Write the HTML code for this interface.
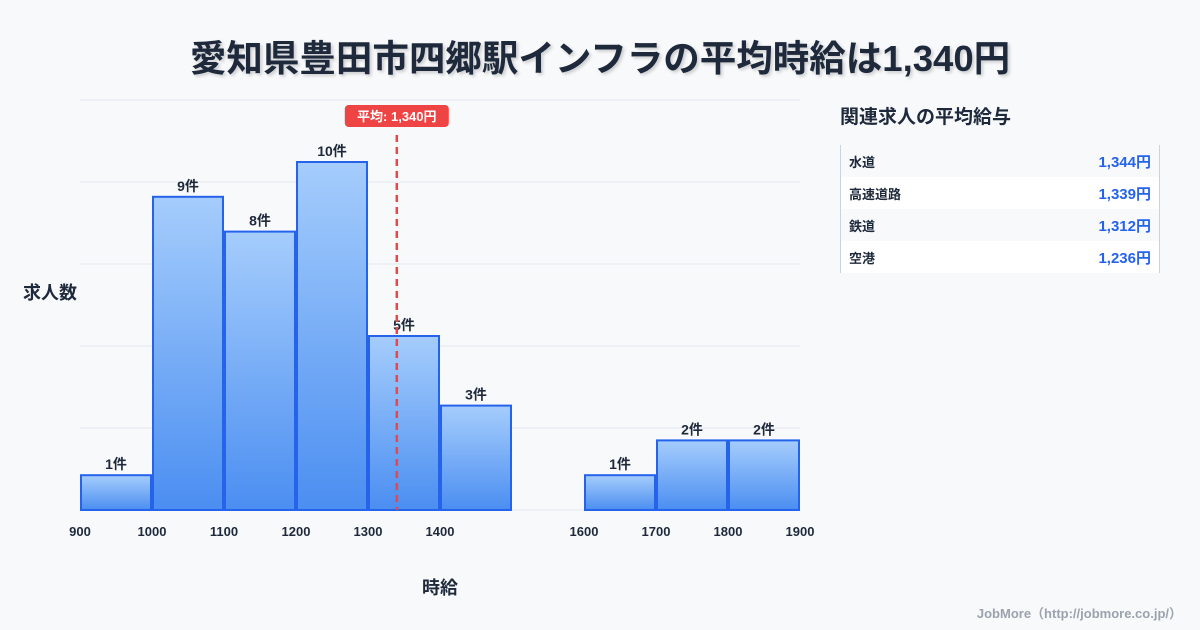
<!DOCTYPE html>
<html><head><meta charset="utf-8"><style>
body{margin:0;width:1200px;height:630px;background:#f8f9fb;font-family:"Liberation Sans","Noto Sans CJK JP",sans-serif;overflow:hidden;position:relative}
.title{position:absolute;top:29px;left:0;width:1200px;text-align:center;font-size:36.5px;font-weight:bold;color:#1e293b;text-shadow:2px 2px 3px rgba(0,0,0,.18)}
.side{position:absolute;left:840px;top:102px;font-size:19px;font-weight:bold;color:#1e293b}
table{position:absolute;left:840px;top:145px;width:320px;border-collapse:collapse;border-left:1px solid #c9d3e0;border-right:1px solid #c9d3e0;font-size:13px}
td{height:32px;padding:0 8px;color:#1e293b;font-weight:bold}
td.v{text-align:right;color:#2563eb;font-size:15px}
tr:nth-child(even) td{background:#fff}
.foot{position:absolute;right:18px;bottom:8px;font-size:13px;color:#9aa3ad;font-weight:bold}
</style></head><body>
<div class="title">愛知県豊田市四郷駅インフラの平均時給は1,340円</div>
<svg width="1200" height="630" style="position:absolute;left:0;top:0">
<defs><linearGradient id="g" x1="0" y1="0" x2="0" y2="1"><stop offset="0" stop-color="#a5cdfc"/><stop offset="1" stop-color="#4b8ef1"/></linearGradient></defs>
<g id="grid"></g><g id="bars"></g><g id="ticks"></g><g id="mean"></g>
<text x="50" y="299" text-anchor="middle" font-size="18" font-weight="bold" fill="#1e293b">求人数</text>
<text x="440" y="594" text-anchor="middle" font-size="18" font-weight="bold" fill="#1e293b">時給</text>
</svg>
<div class="side">関連求人の平均給与</div>
<table>
<tr><td>水道</td><td class="v">1,344円</td></tr>
<tr><td>高速道路</td><td class="v">1,339円</td></tr>
<tr><td>鉄道</td><td class="v">1,312円</td></tr>
<tr><td>空港</td><td class="v">1,236円</td></tr>
</table>
<div class="foot">JobMore（http://jobmore.co.jp/）</div>
<script>
const binStarts=[900,1000,1100,1200,1300,1400,1600,1700,1800];
const counts=[1,9,8,10,5,3,1,2,2];
const tickLabels=[900,1000,1100,1200,1300,1400,1600,1700,1800,1900];
const meanValue=1340;
const meanLabel="平均: 1,340円";
const NS="http://www.w3.org/2000/svg";
const xs=v=>80+(v-900)*0.72;
const ys=c=>510-c*34.8;
function mk(t,a,p){const e=document.createElementNS(NS,t);for(const k in a)e.setAttribute(k,a[k]);p.appendChild(e);return e;}
const G=document.getElementById('grid');
for(let i=0;i<=5;i++){const y=510-i*82;const l=mk('line',{x1:80,x2:800,y1:y,y2:y,stroke:'#e2e6ec','stroke-width':1},G);

}
const B=document.getElementById('bars');
binStarts.forEach((b,i)=>{const x0=xs(b)+1,x1=xs(b+100)-1,y=ys(counts[i]);
const r=mk('rect',{x:x0,y:y,width:x1-x0,height:510-y,fill:'url(#g)',stroke:'#2563eb','stroke-width':2},B);


const t=mk('text',{x:(x0+x1)/2,y:y-6,'text-anchor':'middle','font-size':14,'font-weight':'bold',fill:'#1e293b'},B);t.textContent=counts[i]+'件';

});
const T=document.getElementById('ticks');
tickLabels.forEach(v=>{const t=mk('text',{x:xs(v),y:536,'text-anchor':'middle','font-size':13,'font-weight':'bold',fill:'#1e293b'},T);t.textContent=v;

});
const M=document.getElementById('mean');const mx=xs(meanValue);
const ml=mk('line',{x1:mx,x2:mx,y1:135,y2:510,stroke:'#ef4444','stroke-width':2.5,'stroke-dasharray':'7 5'},M);


const mr=mk('rect',{x:mx-52,y:105,width:104,height:22,rx:4,fill:'#ef4444'},M);


const mt=mk('text',{x:mx,y:121,'text-anchor':'middle','font-size':13,'font-weight':'bold',fill:'#fff'},M);mt.textContent=meanLabel;


</script>
</body></html>
